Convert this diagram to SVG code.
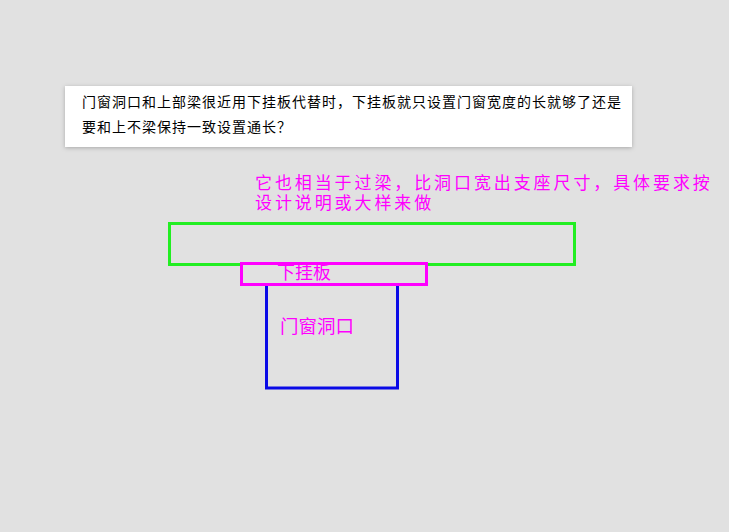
<svg xmlns="http://www.w3.org/2000/svg" width="729" height="532" viewBox="0 0 729 532">
<style>
.q{font-family:"Noto Sans CJK SC","Liberation Sans",sans-serif;font-size:14px;letter-spacing:1px;fill:#000}
.m{font-family:"Noto Sans CJK SC","Liberation Sans",sans-serif;fill:#ff00ff}
</style>
<defs>
<filter id="sh" x="-5%" y="-20%" width="110%" height="140%"><feDropShadow dx="0" dy="1" stdDeviation="2" flood-color="#000" flood-opacity="0.25"/></filter>
</defs>
<rect width="729" height="532" fill="#e1e1e1"/>
<g id="question">
<rect x="65" y="86" width="567" height="61" fill="#fff" filter="url(#sh)"/>
<text class="q" x="82" y="107">门窗洞口和上部梁很近用下挂板代替时，下挂板就只设置门窗宽度的长就够了还是</text>
<text class="q" x="82" y="132">要和上不梁保持一致设置通长？</text>
</g>
<g id="note">
<text class="m" x="255" y="189" font-size="17" letter-spacing="2.9">它也相当于过梁，比洞口宽出支座尺寸，具体要求按</text>
<text class="m" x="255" y="209" font-size="17" letter-spacing="2.9">设计说明或大样来做</text>
</g>
<g id="beam"><rect x="169.5" y="223.5" width="405" height="41" fill="none" stroke="#22ee22" stroke-width="3"/></g>
<g id="opening"><rect x="266.5" y="284" width="131" height="104" fill="none" stroke="#0a0ae6" stroke-width="3"/>
<text class="m" x="280" y="333" font-size="18.5">门窗洞口</text></g>
<g id="hangplate"><rect x="241.5" y="263.5" width="185" height="21" fill="#e1e1e1" stroke="#ff00ff" stroke-width="3"/>
<text class="m" x="277" y="279" font-size="18">下挂板</text></g>
<g id="connectors"/>
</svg>
